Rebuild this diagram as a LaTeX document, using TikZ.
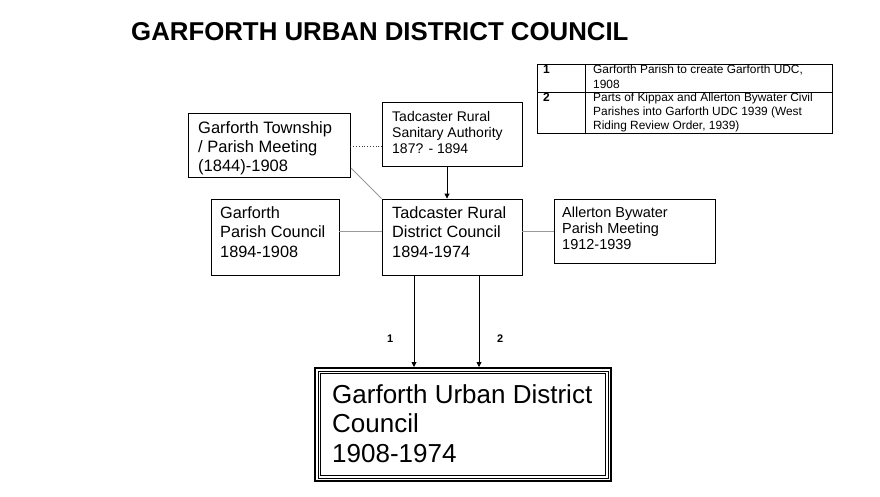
\documentclass[tikz,border=0pt]{standalone}
\usepackage{fontspec}
\setmainfont{Liberation Sans}
\usetikzlibrary{arrows.meta}
\newcommand{\fsz}[2]{\fontsize{#1}{#2}\selectfont}
\begin{document}
\begin{tikzpicture}[x=1pt,y=-1pt,
  box/.style={draw=black,line width=0.9pt,rectangle,inner sep=0pt},
  txt/.style={anchor=base west,inner sep=0pt,align=left},
  conn/.style={draw=gray!80,line width=0.8pt},
  arr/.style={draw=black,line width=0.9pt,-{Triangle[width=5pt,length=5pt]}}]
\useasboundingbox[fill=white] (0,0) rectangle (880,496);
% title
\node[txt,font=\bfseries\fsz{25.8}{28}] (title) at (131,40) {GARFORTH URBAN DISTRICT COUNCIL};
% boxes
\node[box,minimum width=162pt,minimum height=64pt] (town) at (269,145) {};
\node[box,minimum width=140pt,minimum height=64pt] (san) at (452,134) {};
\node[box,minimum width=128pt,minimum height=76pt] (gpc) at (275,237) {};
\node[box,minimum width=140pt,minimum height=76pt] (rdc) at (452,237) {};
\node[box,minimum width=161pt,minimum height=64pt] (all) at (634.5,231) {};
% texts (anchor = baseline of the last line)
\node[txt,font=\fsz{16.5}{19}] (towntxt) at (198,171) {Garforth Township\\/ Parish Meeting\\(1844)-1908};
\node[txt,font=\fsz{14}{15.8}] (santxt) at (392,153.3) {Tadcaster Rural\\Sanitary Authority\\187? - 1894};
\node[txt,font=\fsz{16.3}{19.5}] (gpctxt) at (220,257) {Garforth\\Parish Council\\1894-1908};
\node[txt,font=\fsz{16.3}{19.5}] (rdctxt) at (392,257) {Tadcaster Rural\\District Council\\1894-1974};
\node[txt,font=\fsz{14.5}{16}] (alltxt) at (562,249) {Allerton Bywater\\Parish Meeting\\1912-1939};
% table
\node[box,line width=0.8pt,minimum width=295pt,minimum height=69pt] (tab) at (684.5,98.5) {};
\coordinate (colt) at (585,64);
\coordinate (colb) at (585,133);
\coordinate (rowl) at (537,92);
\coordinate (rowr) at (832,92);
\draw[line width=0.8pt] (colt) -- (colb);
\draw[line width=0.8pt] (rowl) -- (rowr);
\node[txt,font=\bfseries\fsz{12}{14}] (n1) at (543,73.3) {1};
\node[txt,font=\bfseries\fsz{12}{14}] (n2) at (543,101.7) {2};
\node[txt,font=\fsz{11.9}{14.7}] (t1) at (593,88) {Garforth Parish to create Garforth UDC,\\1908};
\node[txt,font=\fsz{11.9}{13.8}] (t2) at (593,129.3) {Parts of Kippax and Allerton Bywater Civil\\Parishes into Garforth UDC 1939 (West\\Riding Review Order, 1939)};
% final box
\node[draw=black,line width=2pt,minimum width=296pt,minimum height=113pt,inner sep=0pt] (gudc) at (463,424.5) {};
\node[draw=black,line width=1pt,minimum width=290pt,minimum height=107pt,inner sep=0pt] (gudcm) at (463,424.5) {};
\node[draw=black,line width=1pt,minimum width=285pt,minimum height=102pt,inner sep=0pt] (gudci) at (463,424.5) {};
\node[txt,font=\fsz{26}{29.5}] (gudctxt) at (332,462) {Garforth Urban District\\Council\\1908-1974};
% connectors
\draw[draw=black!75,line width=0.8pt,dotted] (town.east |- 0,146.5) -- (san.west |- 0,146.5);
\coordinate (diag) at (351,168);
\draw[conn] (diag) -- (rdc.north west);
\draw[conn] (gpc.east |- 0,231) -- (rdc.west |- 0,231);
\draw[conn] (rdc.east |- 0,231) -- (all.west |- 0,231);
\draw[arr] (san.south -| 447,0) -- (rdc.north -| 447,0);
\draw[arr] (rdc.south -| 414,0) -- (gudc.north -| 414,0);
\draw[arr] (rdc.south -| 479,0) -- (gudc.north -| 479,0);
\node[txt,font=\bfseries\fsz{11}{13}] (l1) at (387,342) {1};
\node[txt,font=\bfseries\fsz{11}{13}] (l2) at (497,342) {2};
\end{tikzpicture}
\end{document}
